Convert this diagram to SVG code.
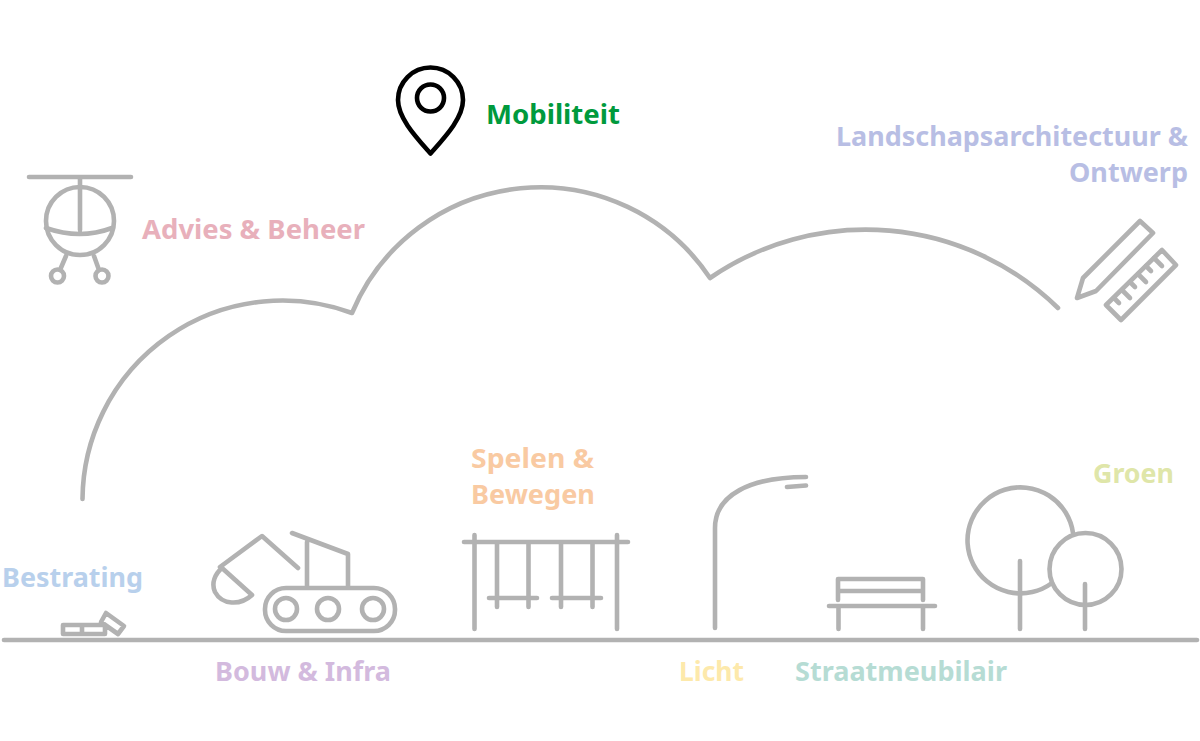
<svg xmlns="http://www.w3.org/2000/svg" width="1200" height="741" viewBox="0 0 1200 741">
<style>
.s{fill:none;stroke:#b2b2b2;stroke-width:4.600;stroke-linecap:round;stroke-linejoin:round}
.k{fill:none;stroke:#000;stroke-width:4.600;stroke-linejoin:round}
text{font-family:"Noto Sans","Open Sans","Liberation Sans",sans-serif;font-weight:700;font-size:27.500px}
</style>
<rect width="1200" height="741" fill="#fff"/>
<g id="connectors">
<path class="s" d="M82.500 499A200 200 0 0 1 352 313A204 204 0 0 1 710 278A275 275 0 0 1 1058 308"/>
<path class="s" d="M4 640H1197"/>
</g>
<g id="advies">
<path class="s" d="M29 177H131M80 177V230M46 228Q80 240 112 228M66 256L60 270M94 256L99 270"/>
<circle class="s" cx="80" cy="221" r="34"/>
<circle class="s" cx="57.500" cy="276" r="6.500"/>
<circle class="s" cx="102" cy="276" r="6.500"/>
<text x="142" y="238.500" textLength="223" lengthAdjust="spacingAndGlyphs" fill="#e8b0bb">Advies &amp; Beheer</text>
</g>
<g id="mobiliteit">
<path class="k" d="M430.500 153.500C416 137 398 118 398 100A32.500 32.500 0 0 1 463 100C463 118 445 137 430.500 153.500Z"/>
<circle class="k" cx="430.500" cy="98" r="13.500"/>
<text x="486" y="124" textLength="134" lengthAdjust="spacingAndGlyphs" fill="#009a3d">Mobiliteit</text>
</g>
<g id="landschap">
<path class="s" d="M1077 298L1083 278L1140 221L1153 233L1096 291Z"/>
<path class="s" d="M1162 250L1176 265L1121 320L1106 305Z"/>
<path class="s" d="M1154 258L1162 266M1146 266L1151 271M1138 274L1146 282M1130 282L1135 287M1122 290L1130 298M1114 298L1119 303"/>
<text x="836" y="146" textLength="352" lengthAdjust="spacingAndGlyphs" fill="#b8bee4">Landschapsarchitectuur &amp;</text>
<text x="1069" y="182" textLength="119" lengthAdjust="spacingAndGlyphs" fill="#b8bee4">Ontwerp</text>
</g>
<g id="bestrating">
<path class="s" d="M63 625H105V634H63ZM82 625V634M106 613L124 626L118 634L101 622Z"/>
<text x="2" y="586.500" textLength="141" lengthAdjust="spacingAndGlyphs" fill="#b8d0ec">Bestrating</text>
</g>
<g id="bouw">
<path class="s" d="M220 567L262 536L298 568M222 568L252 595C240 606 222 605 215 592C211 583 215 574 222 568ZM292 533L348 554V587M307 542V587"/>
<rect class="s" x="265" y="588" width="130" height="43" rx="21"/>
<circle class="s" cx="286" cy="609" r="11"/>
<circle class="s" cx="328" cy="609" r="11"/>
<circle class="s" cx="373" cy="609" r="11"/>
<text x="215" y="681" textLength="176" lengthAdjust="spacingAndGlyphs" fill="#d3bade">Bouw &amp; Infra</text>
</g>
<g id="spelen">
<path class="s" d="M464 542H628M474.500 535V629M617 535V629M497 542V607M528.500 542V607M561 542V607M592.500 542V607M489 598H537M552 598H601"/>
<text x="471" y="468" textLength="123" lengthAdjust="spacingAndGlyphs" fill="#f9caa2">Spelen &amp;</text>
<text x="471" y="504" textLength="124" lengthAdjust="spacingAndGlyphs" fill="#f9caa2">Bewegen</text>
</g>
<g id="licht">
<path class="s" d="M715 628V528C715 495 750 477 806 477M787 487L806 485.500"/>
<text x="679" y="681" textLength="65" lengthAdjust="spacingAndGlyphs" fill="#fde9ab">Licht</text>
</g>
<g id="straatmeubilair">
<path class="s" d="M838 579H923M838 591H923M838 579V600M923 579V600M829 606H935M838.500 606V629M923 606V629"/>
<text x="795" y="681" textLength="212" lengthAdjust="spacingAndGlyphs" fill="#b6dcd4">Straatmeubilair</text>
</g>
<g id="groen">
<path class="s" d="M1073 533A53 53 0 1 0 1052 583"/>
<circle class="s" cx="1085.500" cy="569" r="36"/>
<path class="s" d="M1020 561V629M1085 584V629"/>
<text x="1093" y="483" textLength="81" lengthAdjust="spacingAndGlyphs" fill="#dfe6a9">Groen</text>
</g>
</svg>
